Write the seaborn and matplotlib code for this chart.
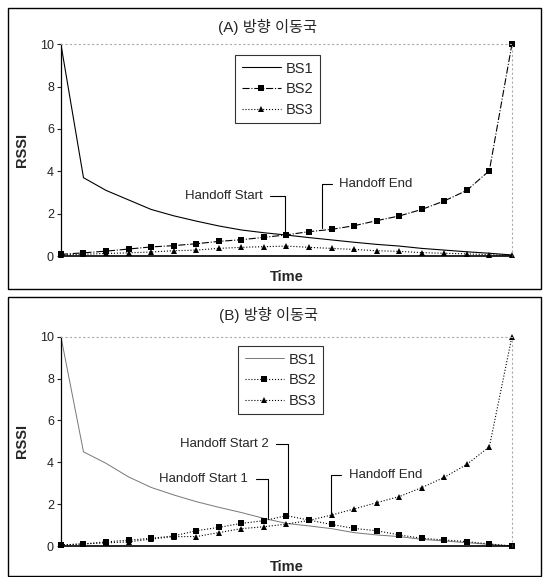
import numpy as np
import pandas as pd
import seaborn as sns
import matplotlib.pyplot as plt
from matplotlib.patches import Rectangle

# time steps
시간 = list(range(21))

# (A) panel
a_bs1 = [10, 3.7, 3.1, 2.65, 2.2, 1.9, 1.65, 1.42, 1.23, 1.1, 0.99, 0.87, 0.76, 0.65, 0.55, 0.47, 0.36, 0.28, 0.2, 0.13, 0.05]
a_bs2 = [0.08, 0.15, 0.23, 0.33, 0.43, 0.49, 0.58, 0.69, 0.77, 0.88, 1.0, 1.15, 1.26, 1.43, 1.67, 1.89, 2.2, 2.6, 3.1, 4.03, 10]
a_bs3 = [0.05, 0.08, 0.12, 0.15, 0.19, 0.25, 0.28, 0.36, 0.41, 0.44, 0.47, 0.41, 0.36, 0.31, 0.25, 0.22, 0.16, 0.13, 0.1, 0.06, 0.03]

# (B) panel
b_bs1 = [10, 4.5, 3.95, 3.3, 2.8, 2.44, 2.12, 1.85, 1.6, 1.32, 1.08, 0.96, 0.83, 0.64, 0.53, 0.45, 0.32, 0.24, 0.16, 0.08, 0.0]
b_bs2 = [0.05, 0.1, 0.2, 0.28, 0.37, 0.48, 0.73, 0.89, 1.08, 1.21, 1.45, 1.24, 1.03, 0.84, 0.73, 0.53, 0.37, 0.29, 0.21, 0.1, 0.0]
b_bs3 = [0.05, 0.1, 0.15, 0.2, 0.33, 0.45, 0.45, 0.64, 0.83, 0.92, 1.05, 1.22, 1.48, 1.77, 2.07, 2.36, 2.79, 3.28, 3.9, 4.74, 10]

y_ticks = [0, 2, 4, 6, 8, 10]

sns.set_style('white')
plt.rcParams['font.family'] = ['Liberation Sans', 'Noto Sans CJK KR', 'DejaVu Sans']

fig = plt.figure(figsize=(5.44, 5.77), dpi=100)

# panel frames
for y0, h in [(0.4991, 0.4869), (0.0017, 0.4836)]:
    fig.patches.append(Rectangle((0.0147, y0), 0.98, h, transform=fig.transFigure,
                                 fill=False, edgecolor='black', linewidth=1.0))


def draw_panel(ax, bs1, bs2, bs3, styles):
    s1, s2, s3 = styles
    sns.lineplot(x=시간, y=bs1, ax=ax, label='BS1', **s1)
    sns.lineplot(x=시간, y=bs2, ax=ax, label='BS2', marker='s', markersize=4.5,
                 markeredgewidth=0, clip_on=False, **s2)
    sns.lineplot(x=시간, y=bs3, ax=ax, label='BS3', marker='^', markersize=5,
                 markeredgewidth=0, clip_on=False, **s3)
    ax.set_xlim(0, 20)
    ax.set_ylim(0, 10)
    ax.set_yticks(y_ticks)
    ax.set_xticks([])
    ax.tick_params(axis='y', labelsize=9, labelcolor='#222222', length=3, width=0.8,
                   direction='out', left=True, pad=2)
    ax.spines['left'].set_color('black')
    ax.spines['bottom'].set_color('black')
    ax.spines['left'].set_linewidth(0.9)
    ax.spines['bottom'].set_linewidth(1.2)
    for s in ['top', 'right']:
        ax.spines[s].set_color('#aaaaaa')
        ax.spines[s].set_linestyle((0, (1, 3)))
        ax.spines[s].set_linewidth(0.8)
    ax.set_xlabel('Time', fontsize=10.5, fontweight='bold', labelpad=10)
    ax.set_ylabel('RSSI', fontsize=10.5, fontweight='bold', labelpad=8)


style_a = [dict(color='black', linewidth=0.8),
           dict(color='black', linewidth=0.8, linestyle='-.'),
           dict(color='black', linewidth=0.8, linestyle=':')]
style_b = [dict(color='#777777', linewidth=0.7),
           dict(color='black', linewidth=0.8, linestyle=':'),
           dict(color='black', linewidth=0.8, linestyle=':')]

ax1 = fig.add_axes([0.112, 0.5563, 0.829, 0.3669])
draw_panel(ax1, a_bs1, a_bs2, a_bs3, style_a)
ax2 = fig.add_axes([0.112, 0.0537, 0.829, 0.3628])
draw_panel(ax2, b_bs1, b_bs2, b_bs3, style_b)

fig.text(0.491, 0.953, '(A) 방향 이동국', ha='center', va='center', fontsize=11)
fig.text(0.493, 0.454, '(B) 방향 이동국', ha='center', va='center', fontsize=11)

for ax, anchor in [(ax1, (0.432, 0.9047)), (ax2, (0.4375, 0.4003))]:
    ax.legend(loc='upper left', bbox_to_anchor=anchor, bbox_transform=fig.transFigure,
              borderaxespad=0, fontsize=10.5, frameon=True, fancybox=False,
              edgecolor='black', handlelength=2.7, handletextpad=0.3,
              borderpad=0.45, labelspacing=0.45)
    ax.get_legend().get_frame().set_linewidth(0.8)

arrow = dict(arrowstyle='-', color='black', linewidth=0.8,
             connectionstyle='angle,angleA=0,angleB=90,rad=0', shrinkA=3, shrinkB=0)

ax1.annotate('Handoff Start', xy=(9.95, 1.1), xytext=(8.95, 2.85), fontsize=9.5,
             ha='right', va='center', arrowprops=arrow)
ax1.annotate('Handoff End', xy=(11.6, 1.3), xytext=(12.33, 3.4), fontsize=9.5,
             ha='left', va='center', arrowprops=arrow)

ax2.annotate('Handoff Start 2', xy=(10.05, 1.4), xytext=(9.2, 4.87), fontsize=9.5,
             ha='right', va='center', arrowprops=arrow)
ax2.annotate('Handoff Start 1', xy=(9.18, 1.35), xytext=(8.3, 3.2), fontsize=9.5,
             ha='right', va='center', arrowprops=arrow)
ax2.annotate('Handoff End', xy=(11.97, 1.55), xytext=(12.77, 3.39), fontsize=9.5,
             ha='left', va='center', arrowprops=arrow)

fig.savefig('out.png', dpi=100)
